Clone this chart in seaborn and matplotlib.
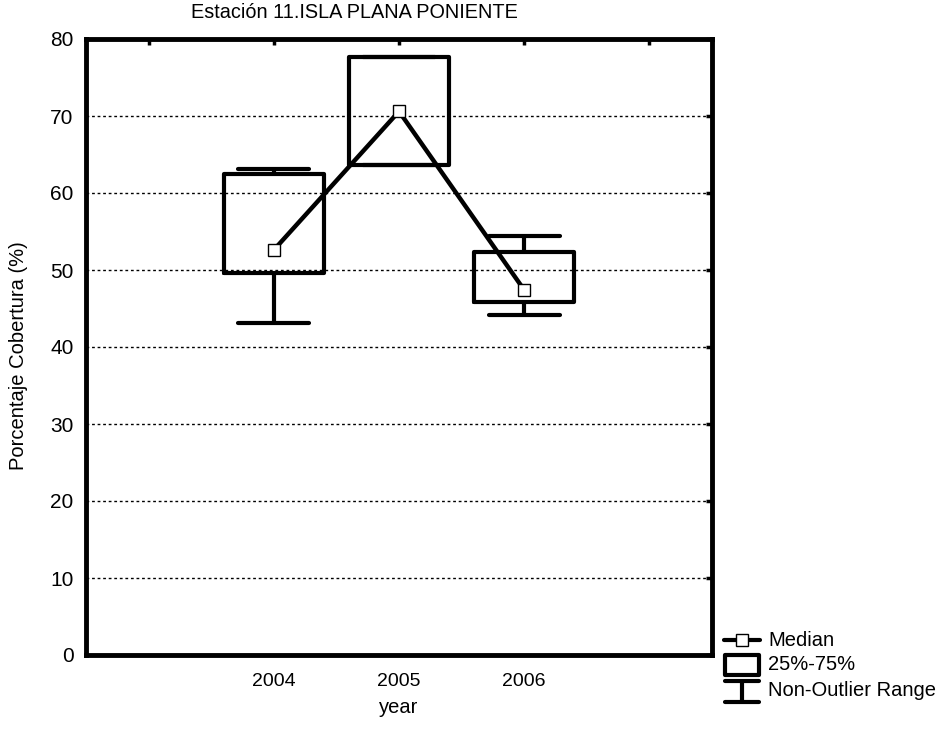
import matplotlib
matplotlib.use("Agg")
import matplotlib.pyplot as plt
import seaborn as sns
import pandas as pd

# Summary statistics per year (percent cover)
years = ["2004", "2005", "2006"]
medians = [52.6, 70.6, 47.4]
q1 = [49.6, 63.6, 45.8]
q3 = [62.5, 77.6, 52.3]
whisker_low = [43.1, 63.6, 44.1]
whisker_high = [63.1, 77.6, 54.4]

# Category axis: two unlabeled slots flank the three years
slots = ["", "2004", "2005", "2006", " "]

sns.set_style("white")
plt.rcParams["font.family"] = ["Liberation Sans", "DejaVu Sans"]

fig = plt.figure(figsize=(9.47, 7.34), dpi=100)
ax = fig.add_axes([86 / 947, 79 / 734, 626 / 947, 616 / 734])

pos = [slots.index(y) for y in years]
stats = [
    dict(med=m, q1=a, q3=b, whislo=lo, whishi=hi, fliers=[], label=y)
    for y, m, a, b, lo, hi in zip(years, medians, q1, q3, whisker_low, whisker_high)
]
lw = 3.0
ax.bxp(
    stats, positions=pos, widths=0.8, showfliers=False, patch_artist=False,
    boxprops=dict(color="black", linewidth=lw, solid_joinstyle="round"),
    whiskerprops=dict(color="black", linewidth=lw),
    capprops=dict(color="black", linewidth=lw, solid_capstyle="round"),
    medianprops=dict(linewidth=0),
    capwidths=0.57, manage_ticks=False, zorder=3,
)

df = pd.DataFrame({"pos": pos, "median": medians})
sns.lineplot(
    data=df, x="pos", y="median", ax=ax, color="black", linewidth=3.2,
    marker="s", markersize=9, markerfacecolor="white", markeredgecolor="black",
    markeredgewidth=1.0, zorder=4,
)

ax.set_xlim(-0.5, 4.5)
ax.set_ylim(0, 80)
ax.set_xticks(range(len(slots)))
ax.set_xticklabels(slots)
ax.set_yticks(range(0, 81, 10))
ax.tick_params(axis="both", direction="in", length=4, width=2.5,
               top=True, right=True, colors="black")
ax.tick_params(axis="y", labelsize=15, pad=9)
ax.tick_params(axis="x", labelsize=14, pad=13)
for lab in ax.get_xticklabels() + ax.get_yticklabels():
    lab.set_color("black")

for y in range(10, 80, 10):
    ax.axhline(y, color="black", linewidth=1.0, linestyle=(0, (2, 2)), zorder=1)

for s in ax.spines.values():
    s.set_linewidth(3.5)
    s.set_color("black")
    s.set_visible(True)

ax.set_xlabel("year", fontsize=14.5, labelpad=6, color="black")
ax.set_ylabel("Porcentaje Cobertura (%)", fontsize=14.5, color="black")
ax.yaxis.set_label_coords(-58 / 626, (734 - 356 - 79) / 616)
fig.text(354 / 947, 1 - 13 / 734, "Estación 11.ISLA PLANA PONIENTE",
         fontsize=14.3, ha="center", va="center", color="black")

# Legend key drawn in pixel coordinates to the right of the plot
lg = fig.add_axes([0, 0, 1, 1], facecolor="none")
lg.set_xlim(0, 947)
lg.set_ylim(734, 0)
lg.axis("off")
# Median glyph
lg.plot([724, 760], [640, 640], color="black", linewidth=3, solid_capstyle="round")
lg.plot([742], [640], marker="s", markersize=8, markerfacecolor="white",
        markeredgecolor="black", markeredgewidth=1.0)
# Box glyph
lg.add_patch(plt.Rectangle((725, 655), 34, 20, fill=False, edgecolor="black",
                           linewidth=3, joinstyle="round"))
# Range glyph
lg.plot([725, 759], [681, 681], color="black", linewidth=3, solid_capstyle="round")
lg.plot([725, 759], [702, 702], color="black", linewidth=3, solid_capstyle="round")
lg.plot([742, 742], [681, 702], color="black", linewidth=3)
for txt, yy in [("Median", 640), ("25%-75%", 665), ("Non-Outlier Range", 691)]:
    lg.text(768, yy, txt, fontsize=14.5, va="center", ha="left", color="black")

fig.savefig("out.png", dpi=100)
